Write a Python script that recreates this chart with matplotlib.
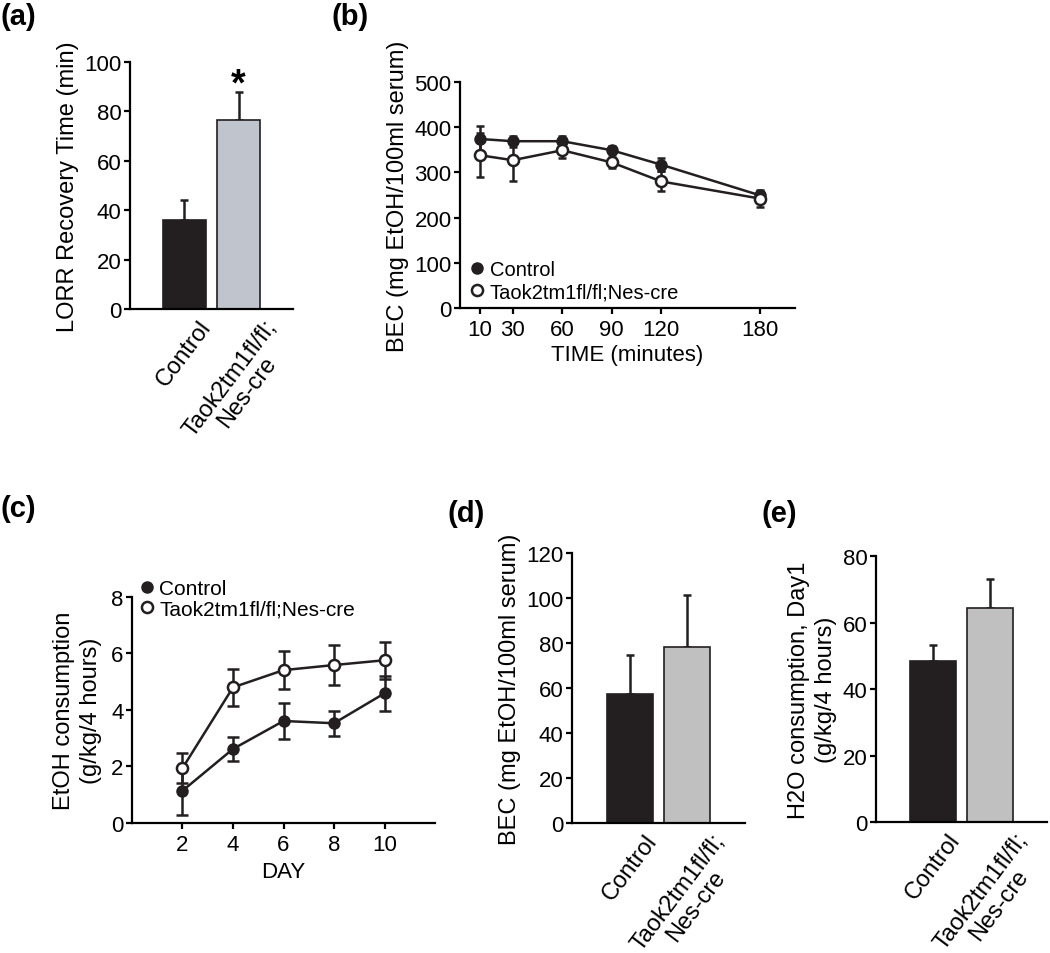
import matplotlib.pyplot as plt
from matplotlib.lines import Line2D
import numpy as np

plt.rcParams['font.family'] = ['Liberation Sans', 'DejaVu Sans']
plt.rcParams['font.size'] = 16
plt.rcParams['axes.linewidth'] = 1.6
plt.rcParams['xtick.major.width'] = 1.6
plt.rcParams['ytick.major.width'] = 1.6
plt.rcParams['xtick.major.size'] = 4
plt.rcParams['ytick.major.size'] = 4

groups = ['Control', 'Taok2tm1fl/fl;\nNes-cre']
dark = '#231f20'

# (a) LORR recovery time
lorr_mean = [36, 76.5]
lorr_err = [8, 11.5]

# (b) BEC time course
bec_time = [10, 30, 60, 90, 120, 180]
bec_ctrl = [374, 369, 369, 349, 317, 249]
bec_ctrl_err = [28, 12, 12, 9, 15, 9]
bec_ko = [338, 327, 349, 322, 280, 242]
bec_ko_err = [49, 46, 17, 13, 22, 18]

# (c) EtOH consumption by day
day = [2, 4, 6, 8, 10]
etoh_ctrl = [1.14, 2.62, 3.61, 3.53, 4.59]
etoh_ctrl_err = [0.85, 0.43, 0.63, 0.45, 0.62]
etoh_ko = [1.94, 4.80, 5.41, 5.59, 5.76]
etoh_ko_err = [0.52, 0.65, 0.66, 0.72, 0.66]

# (d) BEC after drinking
bec2_mean = [57.5, 78.4]
bec2_err = [17, 23]

# (e) H2O consumption
h2o_mean = [48.3, 64.5]
h2o_err = [5, 8.5]

fig = plt.figure(figsize=(10.5, 9.54), dpi=100)

legend_handles = [
    Line2D([], [], ls='none', marker='o', ms=8, mfc=dark, mec=dark),
    Line2D([], [], ls='none', marker='o', ms=8, mfc='white', mec=dark, mew=1.8),
]
legend_labels = ['Control', 'Taok2tm1fl/fl;Nes-cre']


def style(ax):
    ax.spines['top'].set_visible(False)
    ax.spines['right'].set_visible(False)
    ax.tick_params(direction='out', labelsize=16, pad=2)
    ax.tick_params(axis='x', pad=4)


def bar_panel(ax, means, errs, light, ylim, yticks, ylabel):
    x = np.arange(len(means))
    ax.bar(x, means, width=0.8, color=[dark, light], edgecolor=dark, linewidth=1.2, zorder=2)
    ax.errorbar(x, means, yerr=[[0, 0], errs], fmt='none', ecolor=dark,
                elinewidth=1.8, capsize=3, capthick=1.8, zorder=1)
    ax.set_xlim(-1, 2)
    ax.set_ylim(*ylim)
    ax.set_yticks(yticks)
    ax.set_xticks(x)
    style(ax)
    ax.set_xticklabels(groups, rotation=53, ha='center', va='top',
                       multialignment='center', fontsize=17, linespacing=1.0)
    ax.tick_params(axis='x', length=0, pad=5)
    ax.set_ylabel(ylabel, fontsize=17)


def line_panel(ax, x, m1, e1, m2, e2, cap):
    ax.errorbar(x, m1, yerr=e1, color=dark, marker='o', ms=8, mfc=dark, mec=dark,
                lw=1.8, elinewidth=1.8, capsize=cap, capthick=1.8)
    ax.errorbar(x, m2, yerr=e2, color=dark, marker='o', ms=8, mfc='white', mec=dark,
                mew=1.8, lw=1.8, elinewidth=1.8, capsize=cap, capthick=1.8)
    style(ax)


# (a)
ax_a = fig.add_axes([0.1238, 0.675, 0.1552, 0.2589])
bar_panel(ax_a, lorr_mean, lorr_err, '#c0c4cc', (0, 100), range(0, 101, 20),
          'LORR Recovery Time (min)')
ax_a.text(1, 87, '*', ha='center', va='baseline', fontsize=27, fontweight='bold')

# (b)
ax_b = fig.add_axes([0.4381, 0.6761, 0.319, 0.2369])
line_panel(ax_b, bec_time, bec_ctrl, bec_ctrl_err, bec_ko, bec_ko_err, 3)
ax_b.set_xlim(-2, 201)
ax_b.set_ylim(0, 500)
ax_b.set_xticks(bec_time)
ax_b.set_yticks(range(0, 501, 100))
ax_b.set_xlabel('TIME (minutes)', fontsize=16, labelpad=3)
ax_b.set_ylabel('BEC (mg EtOH/100ml serum)', fontsize=17)
ax_b.legend(legend_handles, legend_labels, loc='lower left', bbox_to_anchor=(0.01, -0.005),
            frameon=False, handlelength=0.6, handletextpad=0.3, borderaxespad=0,
            labelspacing=0.15, fontsize=14.5)

# (c)
ax_c = fig.add_axes([0.1257, 0.1363, 0.2886, 0.2369])
line_panel(ax_c, day, etoh_ctrl, etoh_ctrl_err, etoh_ko, etoh_ko_err, 4)
ax_c.set_xlim(0, 12)
ax_c.set_ylim(0, 8)
ax_c.set_xticks(day)
ax_c.set_yticks(range(0, 9, 2))
ax_c.set_xlabel('DAY', fontsize=16, labelpad=4)
ax_c.set_ylabel('EtOH consumption\n(g/kg/4 hours)', fontsize=17, linespacing=1.3)
ax_c.yaxis.set_label_coords(-0.10, 0.5)
ax_c.legend(legend_handles, legend_labels, loc='lower left', bbox_to_anchor=(0.0, 0.87),
            frameon=False, handlelength=0.6, handletextpad=0.3, borderaxespad=0,
            labelspacing=0.05, fontsize=15)

# (d)
ax_d = fig.add_axes([0.5448, 0.1363, 0.1648, 0.283])
bar_panel(ax_d, bec2_mean, bec2_err, '#c0c0c0', (0, 120), range(0, 121, 20),
          'BEC (mg EtOH/100ml serum)')

# (e)
ax_e = fig.add_axes([0.8343, 0.1373, 0.1629, 0.2788])
bar_panel(ax_e, h2o_mean, h2o_err, '#c0c0c0', (0, 80), range(0, 81, 20),
          'H2O consumption, Day1\n(g/kg/4 hours)')
ax_e.yaxis.label.set_linespacing(1.3)

# panel letters
for lbl, x, y in [('(a)', 0.0, 0.997), ('(b)', 0.316, 0.997), ('(c)', 0.0, 0.481),
                  ('(d)', 0.426, 0.476), ('(e)', 0.725, 0.476)]:
    fig.text(x, y, lbl, fontsize=21, fontweight='bold', va='top', ha='left')

fig.savefig('out.png', dpi=100)
